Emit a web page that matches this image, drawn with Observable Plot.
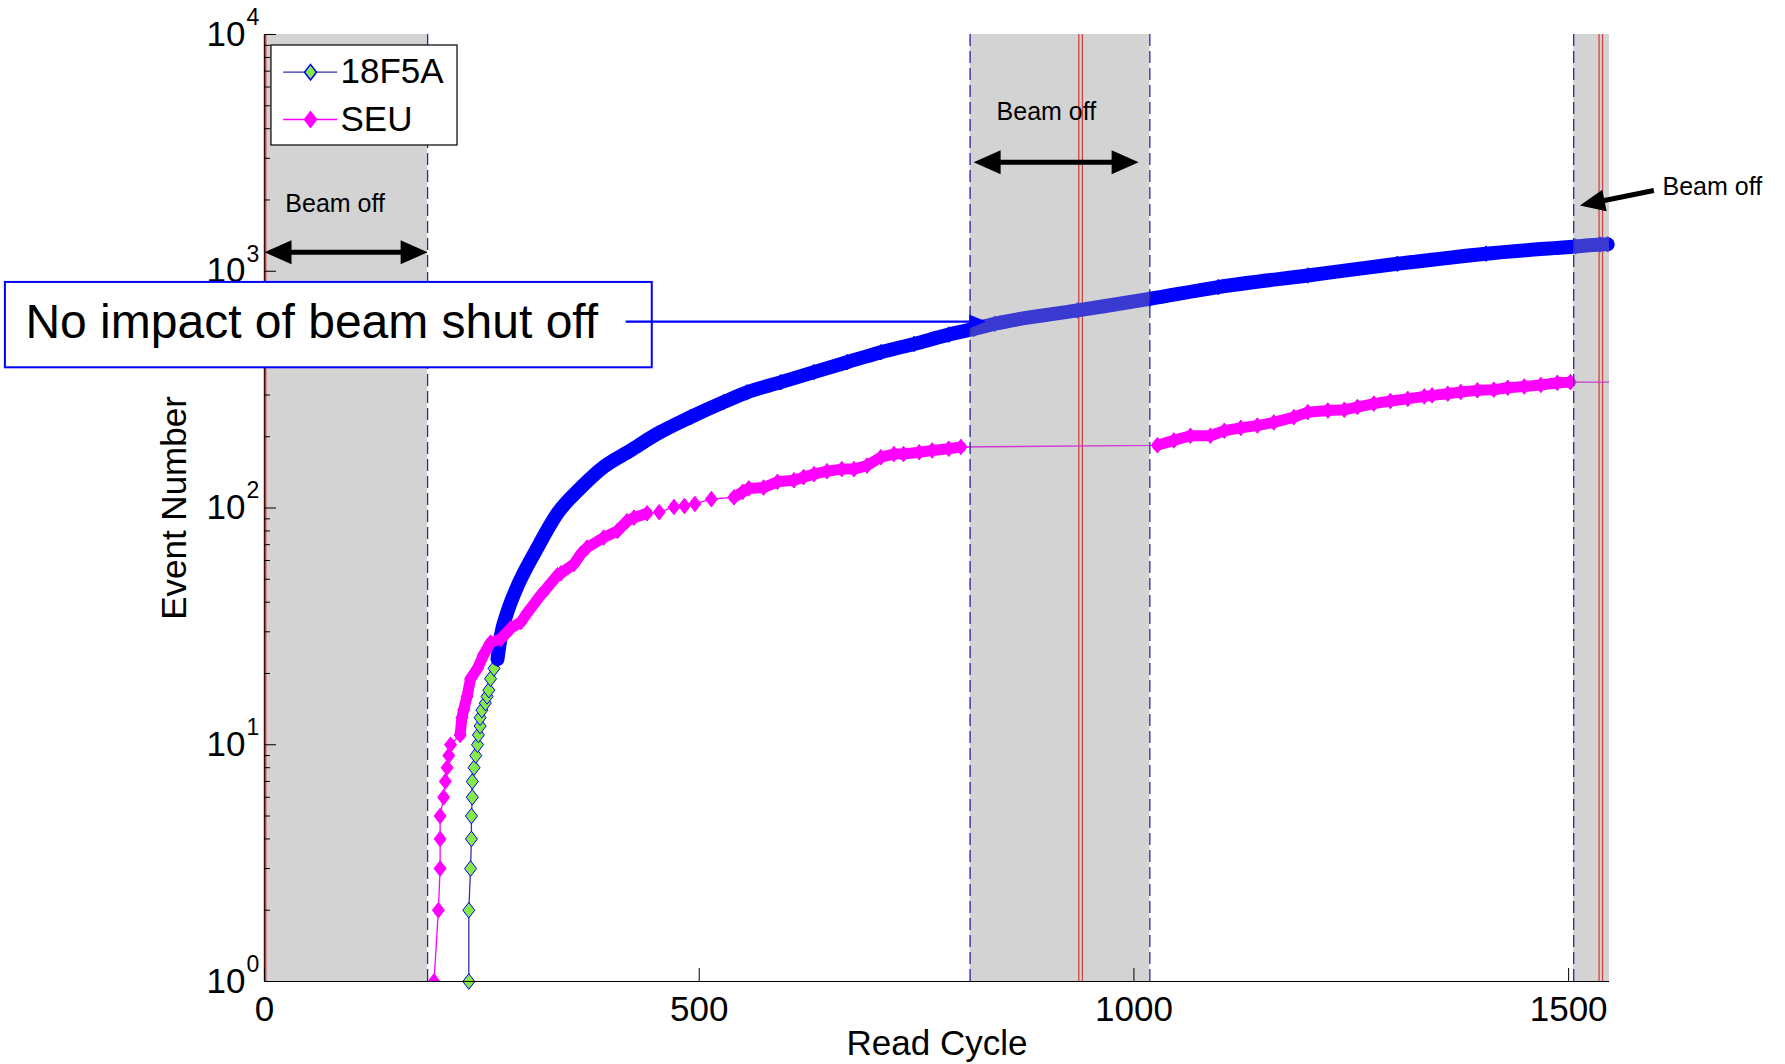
<!DOCTYPE html>
<html>
<head>
<meta charset="utf-8">
<script src="https://cdn.jsdelivr.net/npm/d3@7"></script>
<script src="https://cdn.jsdelivr.net/npm/@observablehq/plot@0.6"></script>
<style>
  html, body { margin: 0; padding: 0; background: #fff; }
  #chart { width: 1785px; height: 1064px; }
</style>
</head>
<body>
<div id="chart"></div>
<script>
// ---------------- data ----------------
const cycle18F5A = [235,235,237,238,238,239,239,241,243,245,246,248,248,250,254,256,258,260,264,268,272,279,289,314,337,364,390,421,452,490,528,555,594,632,670,709,747,787,816,840,935,1018,1097,1200,1303,1405,1508,1536,1545];
const count18F5A = [1,2,3,4,5,6,7,8,9,10,11,12,13,14,15,16,17,19,21,23,29,36,45,68,95,122,149,175,206,242,280,308,340,375,413,455,493,540,571,600,683,764,857,960,1075,1186,1273,1298,1300];

const cycleSEU = [195,200,202,202,202,206,208,210,212,214,225,227,229,233,237,245,252,260,272,283,295,302,318,325,337,341,356,364,371,390,406,417,425,440,454,471,483,495,514,540,550,557,574,590,609,620,632,647,664,678,693,709,724,735,753,768,787,801,1027,1046,1065,1088,1104,1123,1142,1161,1184,1200,1223,1242,1257,1276,1295,1315,1334,1343,1361,1376,1395,1414,1430,1449,1468,1487,1502,1565];
const countSEU = [1,2,3,4,5,6,7,8,9,10,11,13,14,16,19,21,24,27,28,31,33,36,43,46,52,53,58,64,68,75,80,88,91,95,96,101,102,104,109,111,117,121,122,129,131,135,139,143,146,146,151,164,169,169,172,175,178,181,184,193,202,202,212,218,223,230,242,254,258,260,267,276,283,289,296,299,304,309,314,316,322,326,331,338,340,340];
// read-cycle spans where SEU markers overlap into a continuous chain
const seuChains = [[225, 440], [540, 801], [1027, 1502]];

const seriesNames = ["18F5A", "SEU"];
const xTicks = [0, 500, 1000, 1500];
const yMajor = [1, 10, 100, 1000, 10000];
const yExponents = ["0", "1", "2", "3", "4"];
const yMinor = [2,3,4,5,6,7,8,9,20,30,40,50,60,70,80,90,200,300,400,500,600,700,800,900,2000,3000,4000,5000,6000,7000,8000,9000];

const beamOff = [[0, 187.6], [811.6, 1018.3], [1505.8, 1547]];
const beamEdges = [187.6, 811.6, 1018.3, 1505.8];
const beamMarks = [1.5, 936.6, 940.7, 1535, 1539];

// annotations (data units)
const beamLabels = [{x: 24, y: 1919}, {x: 842, y: 4700}, {x: 1608, y: 2265}];
const spanArrows = [{x1: 0, x2: 187.6, y: 1203}, {x1: 815.6, x2: 1005.4, y: 2888}];
const pointArrow = {x1: 1598, y1: 2193, x2: 1513, y2: 1896};
const impactBox = {x1: -298, x2: 446, y1: 391, y2: 897};
const impactText = {x: -275, y: 608, text: "No impact of beam shut off"};
const impactArrow = {x1: 416, x2: 830, y: 613};
const legendBox = {x1: 8, x2: 222, y1: 3398, y2: 8985};
const legendRows = [{y: 6931}, {y: 4375}];
const legendLine = {x1: 21.5, x2: 83.6, xm: 52.9, xt: 87.4};

// ---------------- layout ----------------
const W = 1785, H = 1064, mL = 264, mR = 176, mT = 34, mB = 83;
const xDomain = [0, 1547], yDomain = [1, 10000];
const BLUE = "#0000ff", MAG = "#ff00ff", GREEN = "#88e848", BLUELINE = "#3333aa";

const sx = Plot.scale({x: {domain: xDomain, range: [mL, W - mR]}});
const sy = Plot.scale({y: {type: "log", domain: yDomain, range: [H - mB, mT]}});

const tallDiamond = {
  draw(ctx, size) {
    const r = Math.sqrt(size / Math.PI), h = r * 1.3;
    ctx.moveTo(0, -h); ctx.lineTo(r, 0); ctx.lineTo(0, h); ctx.lineTo(-r, 0); ctx.closePath();
  }
};
const head = (len, half) => ({
  draw(ctx) { ctx.moveTo(0, 0); ctx.lineTo(half, len); ctx.lineTo(-half, len); ctx.closePath(); }
});

const blue = cycle18F5A.map((x, i) => ({x, y: count18F5A[i]}));
const seu = cycleSEU.map((x, i) => ({x, y: countSEU[i]}));
const seuChain = seu
  .map(d => ({...d, chain: seuChains.findIndex(([a, b]) => d.x >= a && d.x <= b)}))
  .filter(d => d.chain >= 0);

// slanted arrow geometry through the scales
const pa = [sx.apply(pointArrow.x1), sy.apply(pointArrow.y1)];
const pb = [sx.apply(pointArrow.x2), sy.apply(pointArrow.y2)];
const plen = Math.hypot(pb[0] - pa[0], pb[1] - pa[1]);
const ux = (pb[0] - pa[0]) / plen, uy = (pb[1] - pa[1]) / plen;
const pAngle = Math.atan2(uy, ux) * 180 / Math.PI + 90;
const shaftEnd = {x: sx.invert(pb[0] - ux * 16), y: sy.invert(pb[1] - uy * 16)};

const chart = Plot.plot({
  width: W, height: H,
  marginLeft: mL, marginRight: mR, marginTop: mT, marginBottom: mB,
  x: {domain: xDomain, label: null},
  y: {type: "log", domain: yDomain, label: null},
  style: {fontFamily: "'Liberation Sans', Arial, sans-serif", fontSize: "34px", color: "black", background: "white"},
  marks: [
    // red beam markers (under the shading)
    Plot.ruleX(beamMarks, {x: d => d, stroke: "#ff1010", strokeWidth: 1.3}),
    // 18F5A
    Plot.line(blue, {x: "x", y: "y", stroke: BLUELINE, strokeWidth: 1.3}),
    Plot.dot(blue, {x: "x", y: "y", symbol: tallDiamond, r: 6, fill: GREEN, stroke: BLUE, strokeWidth: 1}),
    Plot.line(blue.filter(d => d.y >= 23), {x: "x", y: "y", curve: "monotone-x", stroke: BLUE, strokeWidth: 14, strokeLinejoin: "round", strokeLinecap: "round"}),
    // SEU
    Plot.line(seu, {x: "x", y: "y", stroke: MAG, strokeWidth: 1.3, clip: true}),
    Plot.line(seuChain, {x: "x", y: "y", z: "chain", stroke: MAG, strokeWidth: 11, strokeLinejoin: "round", strokeLinecap: "round"}),
    Plot.dot(seu, {x: "x", y: "y", symbol: tallDiamond, r: 6, fill: MAG, stroke: MAG, strokeWidth: 1, clip: true}),
    // beam-off shading
    Plot.rect(beamOff, {x1: d => d[0], x2: d => d[1], y1: () => 1, y2: () => 10000, fill: "#929292", fillOpacity: 0.4}),
    Plot.ruleX(beamEdges, {x: d => d, stroke: "#2a2aa0", strokeWidth: 1.3, strokeDasharray: "12,5"}),
    // axes
    Plot.ruleX([0], {stroke: "#3a0a0a", strokeWidth: 1.4}),
    Plot.ruleY([1], {stroke: "black", strokeWidth: 1.2}),
    Plot.axisX(xTicks, {tickSize: -13, tickPadding: 28, tickFormat: d => String(d), label: null, fontSize: 35}),
    Plot.axisY(yMajor, {tickSize: -12, tickFormat: () => "", label: null}),
    Plot.axisY(yMinor, {tickSize: -6, tickFormat: () => "", label: null}),
    Plot.text(yMajor, {y: d => d, frameAnchor: "left", text: () => "10", textAnchor: "end", dx: -19, fontSize: 35}),
    Plot.text(yMajor, {y: d => d, frameAnchor: "left", text: (d, i) => yExponents[i], textAnchor: "start", dx: -18, dy: -17, fontSize: 23}),
    Plot.text(["Read Cycle"], {frameAnchor: "bottom", text: d => d, textAnchor: "middle", dy: 73, fontSize: 35}),
    Plot.text(["Event Number"], {frameAnchor: "left", text: d => d, textAnchor: "middle", dx: -90, rotate: -90, fontSize: 35}),
    // legend
    Plot.rect([legendBox], {x1: "x1", x2: "x2", y1: "y1", y2: "y2", fill: "white", stroke: "black", strokeWidth: 1.2}),
    Plot.link(legendRows, {x1: () => legendLine.x1, x2: () => legendLine.x2, y1: "y", y2: "y", stroke: (d, i) => i === 0 ? BLUELINE : MAG, strokeWidth: 1.3}),
    Plot.dot([legendRows[0]], {x: () => legendLine.xm, y: "y", symbol: tallDiamond, r: 6, fill: GREEN, stroke: BLUE}),
    Plot.dot([legendRows[1]], {x: () => legendLine.xm, y: "y", symbol: tallDiamond, r: 6, fill: MAG, stroke: MAG}),
    Plot.text(legendRows, {x: () => legendLine.xt, y: "y", text: (d, i) => seriesNames[i], textAnchor: "start", fontSize: 35}),
    // "Beam off" annotations
    Plot.text(beamLabels, {x: "x", y: "y", text: () => "Beam off", textAnchor: "start", fontSize: 25}),
    Plot.ruleY(spanArrows, {x1: "x1", x2: "x2", y: "y", stroke: "black", strokeWidth: 5, insetLeft: 14, insetRight: 14}),
    Plot.dot(spanArrows, {x: "x1", y: "y", symbol: head(27, 12), r: 1, rotate: -90, fill: "black", stroke: "none"}),
    Plot.dot(spanArrows, {x: "x2", y: "y", symbol: head(27, 12), r: 1, rotate: 90, fill: "black", stroke: "none"}),
    Plot.link([pointArrow], {x1: "x1", y1: "y1", x2: () => shaftEnd.x, y2: () => shaftEnd.y, stroke: "black", strokeWidth: 5}),
    Plot.dot([pointArrow], {x: "x2", y: "y2", symbol: head(25, 11), r: 1, rotate: pAngle, fill: "black", stroke: "none"}),
    // callout
    Plot.rect([impactBox], {x1: "x1", x2: "x2", y1: "y1", y2: "y2", fill: "white", stroke: BLUE, strokeWidth: 2}),
    Plot.text([impactText], {x: "x", y: "y", text: "text", textAnchor: "start", fontSize: 48}),
    Plot.ruleY([impactArrow], {x1: "x1", x2: "x2", y: "y", stroke: BLUE, strokeWidth: 2.2, insetRight: 10}),
    Plot.dot([impactArrow], {x: "x2", y: "y", symbol: head(17, 7), r: 1, rotate: 90, fill: BLUE, stroke: "none"})
  ]
});

document.getElementById("chart").appendChild(chart);
</script>
</body>
</html>
